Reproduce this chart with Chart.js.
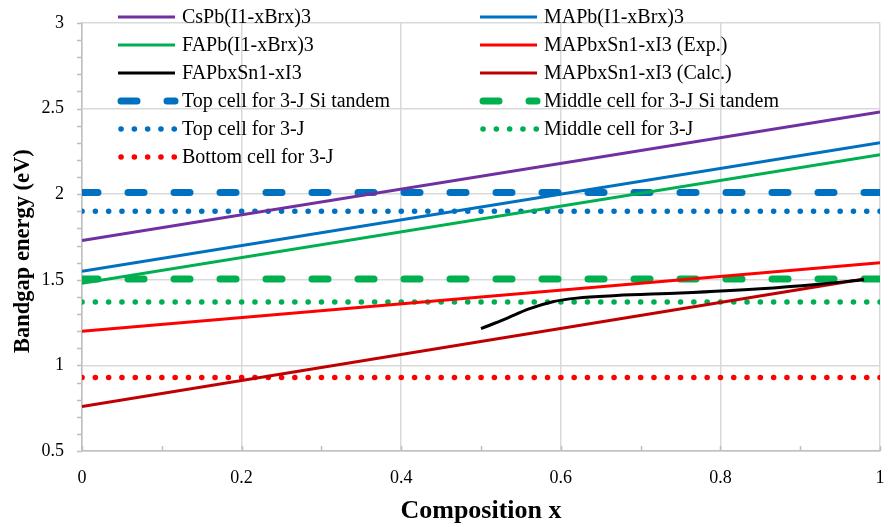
<!DOCTYPE html>
<html>
<head>
<meta charset="utf-8">
<script src="https://cdn.jsdelivr.net/npm/chart.js@4.4.0/dist/chart.umd.min.js"></script>
<style>
  html, body { margin: 0; padding: 0; background: #fff; }
  #wrap { width: 892px; height: 527px; }
</style>
</head>
<body>
<div id="wrap"><canvas id="bandgap-chart" width="892" height="527"></canvas></div>
<script>
// composition endpoints for the linear fits
const compX = [0, 1];
const csPb = [1.73, 2.48];
const maPb = [1.55, 2.30];
const faPb = [1.48, 2.23];
const maPbSnExp = [1.20, 1.60];
const calcX = [0, 0.98];
const maPbSnCalc = [0.76, 1.505];

// FAPbxSn1-xI3 curve
const faPbSnX = [0.50, 0.53, 0.56, 0.59, 0.62, 0.67, 0.75, 0.85, 0.92, 0.98];
const faPbSnY = [1.215, 1.27, 1.33, 1.372, 1.393, 1.408, 1.423, 1.448, 1.473, 1.50];

// target bandgaps (horizontal lines)
const topSiTandem = 2.01;
const middleSiTandem = 1.505;
const top3J = 1.90;
const middle3J = 1.37;
const bottom3J = 0.93;

const xTicks = [0, 0.2, 0.4, 0.6, 0.8, 1];
const yTicks = [0.5, 1, 1.5, 2, 2.5, 3];

function pts(xs, ys) {
    return xs.map((x, i) => ({ x: x, y: ys[i] }));
}
function flat(v) {
    return compX.map(x => ({ x: x, y: v }));
}

const DASH = [16, 30];
const DOT = [0.1, 13.2];

function solid(label, color, data, row, col) {
    return { label, data, borderColor: color, borderWidth: 3, pointRadius: 0,
             fill: false, order: 1, legendRow: row, legendCol: col };
}
function target(label, color, v, dash, width, row, col) {
    return { label, data: flat(v), borderColor: color, borderWidth: width,
             borderDash: dash, borderCapStyle: 'round', pointRadius: 0,
             fill: false, order: 2, legendRow: row, legendCol: col };
}

const datasets = [
    solid('CsPb(I1-xBrx)3', '#7030A0', pts(compX, csPb), 0, 0),
    solid('MAPb(I1-xBrx)3', '#0070C0', pts(compX, maPb), 0, 1),
    solid('FAPb(I1-xBrx)3', '#00B050', pts(compX, faPb), 1, 0),
    solid('MAPbxSn1-xI3 (Exp.)', '#FF0000', pts(compX, maPbSnExp), 1, 1),
    Object.assign(solid('FAPbxSn1-xI3', '#000000', pts(faPbSnX, faPbSnY), 2, 0), { cubicInterpolationMode: 'monotone' }),
    solid('MAPbxSn1-xI3 (Calc.)', '#C00000', pts(calcX, maPbSnCalc), 2, 1),
    target('Top cell for 3-J Si tandem', '#0070C0', topSiTandem, DASH, 7, 3, 0),
    target('Middle cell for 3-J Si tandem', '#00B050', middleSiTandem, DASH, 7, 3, 1),
    target('Top cell for 3-J', '#0070C0', top3J, DOT, 5.5, 4, 0),
    target('Middle cell for 3-J', '#00B050', middle3J, DOT, 5.5, 4, 1),
    target('Bottom cell for 3-J', '#FF0000', bottom3J, DOT, 5.5, 5, 0)
];

// legend drawn inside the plot, two columns
const insideLegend = {
    id: 'insideLegend',
    afterDraw(chart) {
        const ctx = chart.ctx;
        const colX = [118, 480];
        ctx.save();
        ctx.font = '20px "Liberation Serif", "Times New Roman", serif';
        ctx.textBaseline = 'middle';
        ctx.fillStyle = '#000';
        chart.data.datasets.forEach(ds => {
            const x0 = colX[ds.legendCol];
            const y = 17 + ds.legendRow * 28;
            ctx.beginPath();
            ctx.strokeStyle = ds.borderColor;
            ctx.lineWidth = ds.borderWidth;
            ctx.lineCap = ds.borderDash ? 'round' : 'butt';
            ctx.setLineDash(ds.borderDash || []);
            ctx.moveTo(x0 + (ds.borderDash ? 3 : 0), y);
            ctx.lineTo(x0 + 57, y);
            ctx.stroke();
            ctx.setLineDash([]);
            ctx.fillText(ds.label, x0 + 64, y + 1);
        });
        ctx.restore();
    }
};

// minor tick marks like the original
const minorTicks = {
    id: 'minorTicks',
    afterDraw(chart) {
        const ctx = chart.ctx;
        const xs = chart.scales.x, ys = chart.scales.y;
        const area = chart.chartArea;
        ctx.save();
        ctx.strokeStyle = '#bfbfbf';
        ctx.lineWidth = 1.5;
        ctx.beginPath();
        for (let v = 0.5; v <= 3.001; v += 0.1) {
            const py = Math.round(ys.getPixelForValue(v)) + 0.5;
            ctx.moveTo(area.left - 5, py);
            ctx.lineTo(area.left, py);
        }
        for (let v = 0; v <= 1.001; v += 0.1) {
            const px = Math.round(xs.getPixelForValue(v)) + 0.5;
            ctx.moveTo(px, area.bottom);
            ctx.lineTo(px, area.bottom - 5);
        }
        ctx.stroke();
        ctx.restore();
    }
};

const serif = '"Liberation Serif", "Times New Roman", serif';

new Chart(document.getElementById('bandgap-chart').getContext('2d'), {
    type: 'line',
    data: { datasets: datasets },
    options: {
        responsive: false,
        animation: false,
        events: [],
        layout: { padding: { left: 0, right: 12, top: 23, bottom: 0 } },
        plugins: {
            legend: { display: false },
            tooltip: { enabled: false }
        },
        scales: {
            x: {
                type: 'linear',
                min: 0,
                max: 1,
                afterFit(scale) {
                    scale.height = 76;
                    scale.paddingLeft = 0;
                    scale.paddingRight = 0;
                },
                afterBuildTicks(scale) { scale.ticks = xTicks.map(v => ({ value: v })); },
                ticks: { color: '#000', padding: 16, font: { family: serif, size: 18 },
                         callback: v => String(v) },
                grid: { color: '#d9d9d9', lineWidth: 1.5, drawTicks: false },
                border: { color: '#bfbfbf', width: 1.5 },
                title: {
                    display: true,
                    text: 'Composition x',
                    color: '#000',
                    font: { family: serif, size: 26, weight: 'bold' },
                    padding: { top: 0, bottom: 0 }
                }
            },
            y: {
                min: 0.5,
                max: 3,
                afterFit(scale) {
                    scale.width = 82;
                    scale.paddingTop = 0;
                    scale.paddingBottom = 0;
                },
                afterBuildTicks(scale) { scale.ticks = yTicks.map(v => ({ value: v })); },
                ticks: { color: '#000', padding: 18, font: { family: serif, size: 18 },
                         callback: v => String(v) },
                grid: { color: '#d9d9d9', lineWidth: 1.5, drawTicks: false },
                border: { color: '#bfbfbf', width: 1.5 },
                title: {
                    display: true,
                    // trailing spaces nudge the title down the axis like the original
                    text: 'Bandgap energy (eV)     ',
                    color: '#000',
                    font: { family: serif, size: 22.5, weight: 'bold' },
                    padding: { top: 10, bottom: 0 }
                }
            }
        }
    },
    plugins: [minorTicks, insideLegend]
});
</script>
</body>
</html>
